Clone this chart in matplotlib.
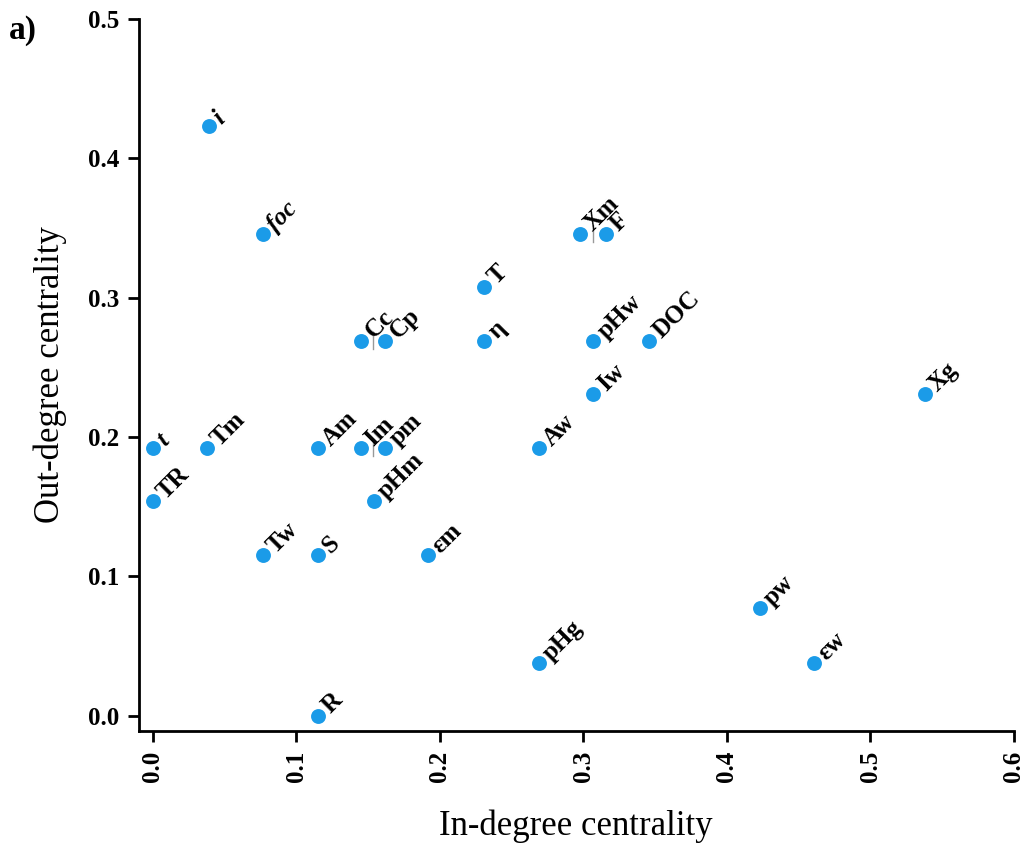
import matplotlib
matplotlib.use("Agg")
import matplotlib.pyplot as plt

plt.rcParams['font.family'] = ['Liberation Serif', 'DejaVu Serif']

# nodes: name, in-degree, out-degree
nombres = ['i', 'foc', 'Xm', 'F', 'T', 'Cc', 'Cp', 'η', 'pHw', 'DOC', 'Xg', 'Iw',
           't', 'Tm', 'Am', 'Im', 'pm', 'Aw', 'TR', 'pHm', 'Tw', 'S', 'εm',
           'pw', 'εw', 'pHg', 'R']
entrada = [0.039, 0.077, 0.298, 0.316, 0.231, 0.145, 0.162, 0.231, 0.307, 0.346, 0.538, 0.307,
           0.0, 0.038, 0.115, 0.145, 0.162, 0.269, 0.0, 0.154, 0.077, 0.115, 0.192,
           0.423, 0.461, 0.269, 0.115]
salida = [0.423, 0.346, 0.346, 0.346, 0.308, 0.269, 0.269, 0.269, 0.269, 0.269, 0.231, 0.231,
          0.192, 0.192, 0.192, 0.192, 0.192, 0.192, 0.154, 0.154, 0.115, 0.115, 0.115,
          0.077, 0.038, 0.038, 0.0]
cursivas = ['i', 'foc', 't']

xticks = [0.0, 0.1, 0.2, 0.3, 0.4, 0.5, 0.6]
yticks = [0.0, 0.1, 0.2, 0.3, 0.4, 0.5]

fig = plt.figure(figsize=(10.29, 8.46), dpi=100)
ax = fig.add_axes([0.135, 0.136, 0.85, 0.8415])

ax.scatter(entrada, salida, s=115, color='#1b9be8', zorder=3, linewidths=0)

# short connectors between points that were pushed apart
for a, b in [('Cc', 'Cp'), ('Im', 'pm'), ('Xm', 'F')]:
    ia, ib = nombres.index(a), nombres.index(b)
    xm = (entrada[ia] + entrada[ib]) / 2
    ax.plot([xm, xm], [salida[ia] - 0.006, salida[ia] + 0.006], color='#999999', lw=1, zorder=2)

for n, x, y in zip(nombres, entrada, salida):
    estilo = 'italic' if n in cursivas else 'normal'
    ax.annotate(n, (x, y), xytext=(9, 1), textcoords='offset points',
                rotation=45, rotation_mode='anchor', ha='left', va='baseline',
                fontsize=18, fontweight='bold', fontstyle=estilo, zorder=4)

ax.set_xlim(-0.0098, 0.6)
ax.set_ylim(-0.011, 0.5)
ax.set_xticks(xticks)
ax.set_yticks(yticks)
ax.set_xticklabels(['%.1f' % v for v in xticks], rotation=90, fontsize=18, fontweight='bold')
ax.set_yticklabels(['%.1f' % v for v in yticks], fontsize=18, fontweight='bold')
ax.tick_params(length=8, width=2, direction='out', pad=6)

for lado in ['top', 'right']:
    ax.spines[lado].set_visible(False)
for lado in ['left', 'bottom']:
    ax.spines[lado].set_linewidth(2)

ax.set_xlabel('In-degree centrality', fontsize=25)
ax.set_ylabel('Out-degree centrality', fontsize=25)
ax.xaxis.set_label_coords(0.5, -0.11)
ax.yaxis.set_label_coords(-0.082, 0.5)

fig.text(0.009, 0.982, 'a)', fontsize=24, fontweight='bold', va='top')

plt.savefig('out.png', dpi=100)
